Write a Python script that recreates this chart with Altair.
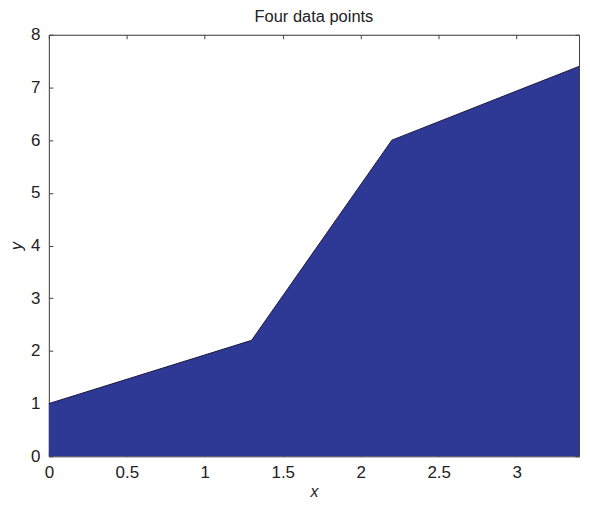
import altair as alt
import pandas as pd

xs = [0.0, 1.3, 2.2, 3.4]
ys = [1.0, 2.2, 6.0, 7.4]
x_ticks = [0, 0.5, 1, 1.5, 2, 2.5, 3]
y_ticks = [0, 1, 2, 3, 4, 5, 6, 7, 8]

df = pd.DataFrame({"x": xs, "y": ys})

FONT = "Liberation Sans"
AX = "#404040"

xscale = alt.Scale(domain=[0, 3.4], nice=False, zero=False)
yscale = alt.Scale(domain=[0, 8], nice=False)

area = alt.Chart(df).mark_area(
    color="#2E3996", opacity=1, line={"color": "#1a1a40", "strokeWidth": 1}
).encode(
    x=alt.X("x:Q", scale=xscale,
            axis=alt.Axis(values=x_ticks, title="x", format="~g", titleFontStyle="italic",
                          titleFontWeight="normal", titleFontSize=16, titleFont=FONT,
                          labelFont=FONT, labelFontSize=17, labelColor="#222",
                          titleColor="#222", grid=False, domainColor=AX,
                          tickColor=AX, tickSize=alt.ExprRef("-4"), labelPadding=12,
                          titlePadding=3, labelFlush=False)),
    y=alt.Y("y:Q", scale=yscale,
            axis=alt.Axis(values=y_ticks, title="y", format="~g", titleFontStyle="italic",
                          titleFontWeight="normal", titleFontSize=16, titleFont=FONT,
                          labelFont=FONT, labelFontSize=17, labelColor="#222",
                          titleColor="#222", grid=False, domainColor=AX,
                          tickColor=AX, tickSize=alt.ExprRef("-4"), labelPadding=13,
                          titlePadding=6, titleAngle=-90)),
)

frame = alt.Chart(df).mark_point(opacity=0).encode(
    x=alt.X("x:Q", scale=xscale,
            axis=alt.Axis(orient="top", values=x_ticks, labels=False, title=None,
                          grid=False, domainColor=AX, tickColor=AX,
                          tickSize=alt.ExprRef("-4"))),
    y=alt.Y("y:Q", scale=yscale,
            axis=alt.Axis(orient="right", values=y_ticks, labels=False, title=None,
                          grid=False, domainColor=AX, tickColor=AX,
                          tickSize=alt.ExprRef("-4"))),
)

chart = alt.layer(area, frame).resolve_axis(x="independent", y="independent").properties(
    width=532, height=423,
    title=alt.TitleParams("Four data points", font=FONT, fontSize=16.5,
                          fontWeight="normal", color="#222", offset=0),
    padding={"left": 0, "top": 0, "right": 0, "bottom": 0},
).configure_view(stroke=None).configure(background="white")

chart.save("out.html", embed_options={"renderer": "svg", "actions": False})
